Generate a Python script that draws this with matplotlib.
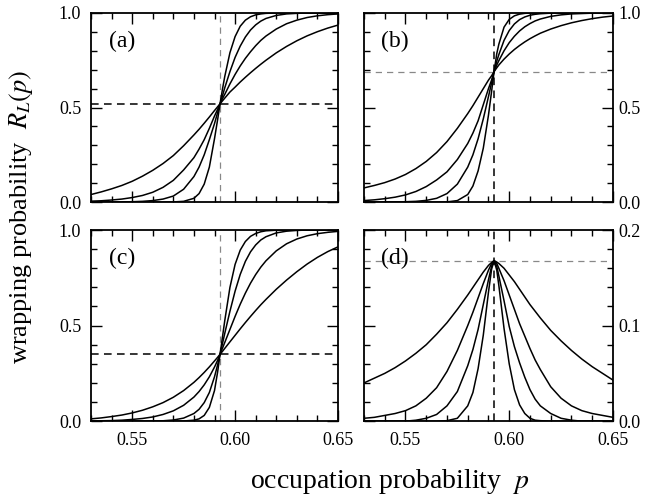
import numpy as np
import matplotlib.pyplot as plt
from matplotlib.ticker import MultipleLocator

# occupation probability grid (shared by all curves)
p = [0.53, 0.535, 0.54, 0.545, 0.55, 0.555, 0.56, 0.565, 0.57, 0.575, 0.58, 0.5825,
     0.585, 0.5875, 0.59, 0.5915, 0.5927, 0.594, 0.595, 0.5975, 0.60, 0.6025, 0.605,
     0.6075, 0.61, 0.6125, 0.615, 0.62, 0.625, 0.63, 0.635, 0.64, 0.645, 0.65]
pc = 0.5927

# panel (a)
a1 = [0.040, 0.054, 0.070, 0.088, 0.110, 0.137, 0.168, 0.204, 0.246, 0.298, 0.355, 0.385,
      0.417, 0.450, 0.484, 0.504, 0.520, 0.537, 0.550, 0.582, 0.608, 0.635, 0.660,
      0.684, 0.707, 0.729, 0.750, 0.789, 0.823, 0.853, 0.879, 0.901, 0.920, 0.936]
a2 = [0.005, 0.007, 0.011, 0.016, 0.024, 0.035, 0.052, 0.078, 0.115, 0.170, 0.235, 0.280,
      0.330, 0.390, 0.455, 0.490, 0.520, 0.550, 0.570, 0.625, 0.675, 0.720, 0.760,
      0.795, 0.827, 0.855, 0.878, 0.915, 0.943, 0.962, 0.976, 0.985, 0.991, 0.995]
a3 = [0.000, 0.000, 0.001, 0.001, 0.002, 0.004, 0.008, 0.016, 0.032, 0.068, 0.135, 0.185,
      0.250, 0.330, 0.415, 0.473, 0.520, 0.567, 0.605, 0.690, 0.765, 0.825, 0.873,
      0.910, 0.937, 0.957, 0.971, 0.987, 0.995, 0.998, 1.000, 1.000, 1.000, 1.000]
a4 = [0.000, 0.000, 0.000, 0.000, 0.000, 0.000, 0.000, 0.000, 0.001, 0.004, 0.020, 0.045,
      0.095, 0.185, 0.335, 0.435, 0.520, 0.605, 0.665, 0.790, 0.875, 0.930, 0.962,
      0.980, 0.990, 0.995, 0.998, 1.000, 1.000, 1.000, 1.000, 1.000, 1.000, 1.000]

# panel (b)
b1 = [0.075, 0.088, 0.103, 0.122, 0.146, 0.177, 0.215, 0.262, 0.320, 0.390, 0.468, 0.510,
      0.555, 0.600, 0.645, 0.668, 0.690, 0.710, 0.725, 0.756, 0.783, 0.807, 0.828,
      0.847, 0.864, 0.879, 0.893, 0.915, 0.933, 0.948, 0.960, 0.970, 0.978, 0.984]
b2 = [0.008, 0.012, 0.018, 0.026, 0.038, 0.056, 0.082, 0.117, 0.160, 0.225, 0.310, 0.365,
      0.430, 0.515, 0.600, 0.645, 0.690, 0.725, 0.748, 0.800, 0.843, 0.877, 0.905,
      0.927, 0.944, 0.958, 0.968, 0.982, 0.990, 0.995, 0.997, 0.999, 1.000, 1.000]
b3 = [0.000, 0.000, 0.000, 0.001, 0.002, 0.004, 0.009, 0.020, 0.045, 0.095, 0.185, 0.250,
      0.335, 0.440, 0.558, 0.631, 0.690, 0.745, 0.780, 0.855, 0.907, 0.942, 0.965,
      0.979, 0.988, 0.993, 0.996, 0.999, 1.000, 1.000, 1.000, 1.000, 1.000, 1.000]
b4 = [0.000, 0.000, 0.000, 0.000, 0.000, 0.000, 0.000, 0.000, 0.001, 0.008, 0.040, 0.085,
      0.165, 0.285, 0.460, 0.585, 0.690, 0.785, 0.835, 0.925, 0.966, 0.985, 0.994,
      0.998, 1.000, 1.000, 1.000, 1.000, 1.000, 1.000, 1.000, 1.000, 1.000, 1.000]

# panel (c)
c1 = [0.012, 0.017, 0.024, 0.032, 0.043, 0.057, 0.075, 0.097, 0.125, 0.160, 0.203, 0.228,
      0.255, 0.284, 0.315, 0.334, 0.350, 0.367, 0.381, 0.415, 0.449, 0.483, 0.516,
      0.548, 0.579, 0.609, 0.637, 0.690, 0.738, 0.782, 0.822, 0.857, 0.887, 0.912]
c2 = [0.001, 0.002, 0.003, 0.005, 0.009, 0.014, 0.022, 0.035, 0.054, 0.083, 0.126, 0.155,
      0.190, 0.232, 0.283, 0.318, 0.350, 0.385, 0.412, 0.480, 0.548, 0.612, 0.670,
      0.722, 0.767, 0.806, 0.839, 0.891, 0.928, 0.953, 0.970, 0.981, 0.988, 0.993]
c3 = [0.000, 0.000, 0.000, 0.000, 0.000, 0.000, 0.001, 0.002, 0.006, 0.016, 0.040, 0.062,
      0.097, 0.150, 0.232, 0.294, 0.350, 0.412, 0.460, 0.575, 0.680, 0.768, 0.836,
      0.886, 0.922, 0.948, 0.965, 0.985, 0.994, 0.998, 1.000, 1.000, 1.000, 1.000]
c4 = [0.000, 0.000, 0.000, 0.000, 0.000, 0.000, 0.000, 0.000, 0.000, 0.001, 0.005, 0.012,
      0.030, 0.072, 0.160, 0.256, 0.350, 0.450, 0.527, 0.700, 0.820, 0.895, 0.940,
      0.967, 0.982, 0.991, 0.996, 0.999, 1.000, 1.000, 1.000, 1.000, 1.000, 1.000]

# panel (d)
d1 = [0.040, 0.045, 0.050, 0.056, 0.063, 0.071, 0.080, 0.091, 0.103, 0.117, 0.132, 0.140,
      0.148, 0.156, 0.163, 0.166, 0.168, 0.1665, 0.165, 0.160, 0.153, 0.146, 0.138,
      0.130, 0.122, 0.115, 0.108, 0.095, 0.084, 0.074, 0.065, 0.057, 0.050, 0.043]
d2 = [0.003, 0.004, 0.006, 0.008, 0.011, 0.016, 0.024, 0.035, 0.052, 0.074, 0.100, 0.114,
      0.129, 0.144, 0.158, 0.165, 0.168, 0.165, 0.160, 0.147, 0.132, 0.117, 0.102,
      0.089, 0.076, 0.064, 0.054, 0.036, 0.024, 0.016, 0.011, 0.008, 0.006, 0.004]
d3 = [0.000, 0.000, 0.000, 0.000, 0.000, 0.001, 0.003, 0.007, 0.016, 0.031, 0.058, 0.075,
      0.096, 0.122, 0.148, 0.162, 0.168, 0.162, 0.152, 0.126, 0.099, 0.078, 0.061,
      0.046, 0.033, 0.023, 0.016, 0.008, 0.003, 0.001, 0.000, 0.000, 0.000, 0.000]
d4 = [0.000, 0.000, 0.000, 0.000, 0.000, 0.000, 0.000, 0.000, 0.0005, 0.003, 0.016, 0.030,
      0.055, 0.090, 0.135, 0.159, 0.168, 0.158, 0.142, 0.097, 0.060, 0.033, 0.017,
      0.008, 0.003, 0.001, 0.0005, 0.000, 0.000, 0.000, 0.000, 0.000, 0.000, 0.000]

plt.rcParams["font.family"] = ["Liberation Serif", "DejaVu Serif"]
plt.rcParams["mathtext.fontset"] = "stix"

fig = plt.figure(figsize=(6.5, 4.99), dpi=100, facecolor="white")

panels = [
    ([0.140, 0.595, 0.380, 0.379], [a1, a2, a3, a4], "(a)", 1.0, 0.52, "v", False, False),
    ([0.560, 0.595, 0.383, 0.379], [b1, b2, b3, b4], "(b)", 1.0, 0.69, "h", True, False),
    ([0.140, 0.156, 0.380, 0.383], [c1, c2, c3, c4], "(c)", 1.0, 0.35, "v", False, True),
    ([0.560, 0.156, 0.383, 0.383], [d1, d2, d3, d4], "(d)", 0.2, 0.168, "h", True, True),
]

for rect, curves, tag, ymax, ycross, grey, right, bottom in panels:
    ax = fig.add_axes(rect)
    if grey == "v":
        ax.axvline(pc, color="#888888", ls=(0, (5, 4)), lw=0.9)
        ax.axhline(ycross, color="black", ls=(0, (5, 3.5)), lw=1.1)
    else:
        ax.axhline(ycross, color="#888888", ls=(0, (5, 4)), lw=0.9)
        ax.axvline(pc, color="black", ls=(0, (5, 3.5)), lw=1.1)
    for y in curves:
        ax.plot(p, y, color="black", lw=1.1)
    ax.set_xlim(0.53, 0.65)
    ax.set_ylim(0, ymax)
    ax.xaxis.set_minor_locator(MultipleLocator(0.01))
    ax.yaxis.set_minor_locator(MultipleLocator(ymax / 10))
    ax.tick_params(which="both", direction="in", top=True, right=True, width=1.0,
                   labelsize=13, labelleft=not right, labelright=right,
                   labelbottom=bottom)
    ax.tick_params(which="major", length=8)
    ax.tick_params(which="minor", length=4)
    ax.tick_params(axis="x", pad=8)
    ax.tick_params(axis="y", pad=7 if not right else 4)
    if ymax == 1.0:
        ax.set_yticks([0, 0.5, 1.0])
        ax.set_yticklabels(["0.0", "0.5", "1.0"])
    else:
        ax.set_yticks([0, 0.1, 0.2])
        ax.set_yticklabels(["0.0", "0.1", "0.2"])
    ax.set_xticks([0.55, 0.60, 0.65])
    ax.set_xticklabels(["0.55", "0.60", "0.65"])
    for s in ax.spines.values():
        s.set_linewidth(1.3)
    ax.text(0.125, 0.85, tag, transform=ax.transAxes, fontsize=17,
            ha="center", va="center")

fig.text(0.6, 0.036, "occupation probability  $p$", fontsize=20,
         ha="center", va="center")
fig.text(0.032, 0.565, "wrapping probability  $R_L(p)$", fontsize=19,
         ha="center", va="center", rotation=90)

fig.savefig("out.png", dpi=100)
